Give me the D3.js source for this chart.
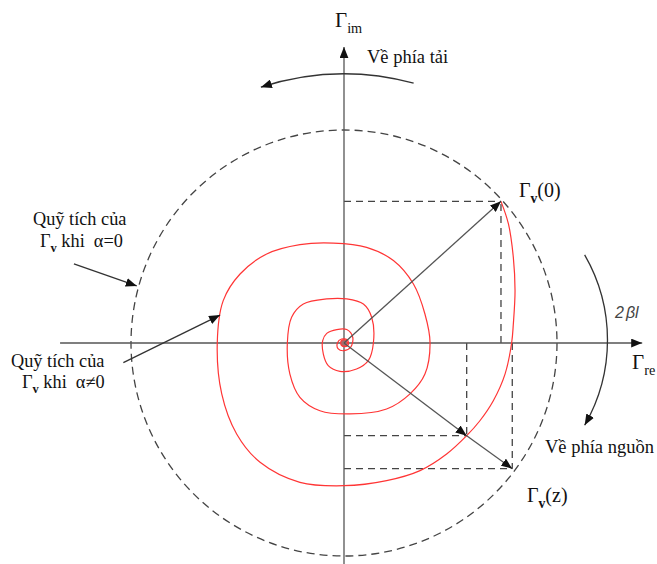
<!DOCTYPE html>
<html>
<head>
<meta charset="utf-8">
<script src="https://cdn.jsdelivr.net/npm/d3@7"></script>
<style>
  body { margin: 0; background: #fff; }
  text { font-family: "Liberation Serif", "Times New Roman", serif; fill: #111; white-space: pre; }
</style>
</head>
<body>
<svg id="chart" width="657" height="564"></svg>
<script>
// Locus of the reflection coefficient Γv on the complex plane (|Γ| = 1 is the dashed circle)

// Spiral locus for a lossy line (α ≠ 0), traced from the load towards the source
const spiralRe = [0.737,0.772,0.795,0.803,0.795,0.787,0.756,0.701,0.638,0.576,0.482,0.357,0.200,0,-0.207,-0.394,-0.504,-0.574,-0.595,-0.567,-0.488,-0.363,-0.207,-0.050,0.106,0.232,0.326,0.380,0.404,0.380,0.310,0.200,0.028,-0.113,-0.207,-0.254,-0.266,-0.246,-0.191,-0.081,0.013,0.091,0.130,0.138,0.114,0.059,-0.019,-0.074,-0.097,-0.100,-0.081,-0.034,0.013,0.041,0.031,0,-0.027,-0.031,-0.011,0.016,0.020,0.005,-0.011,-0.006,0.009];
const spiralIm = [0.665,0.559,0.402,0.246,0.089,0,-0.146,-0.271,-0.365,-0.435,-0.521,-0.599,-0.646,-0.670,-0.654,-0.560,-0.427,-0.239,0,0.199,0.324,0.418,0.462,0.469,0.449,0.387,0.277,0.136,0,-0.146,-0.239,-0.310,-0.333,-0.318,-0.255,-0.146,0,0.121,0.183,0.207,0.207,0.183,0.121,0,-0.083,-0.122,-0.133,-0.106,-0.052,0.011,0.045,0.063,0.063,0.027,-0.020,-0.036,-0.028,0,0.019,0.014,-0.008,-0.017,-0.008,0.008,0.003];

// Reflection coefficients [Re, Im]
const gammaLoad = [0.737, 0.665];         // Γv(0)
const gammaLossless = [0.790, -0.590];    // Γv(z), α = 0
const gammaLossy = [0.576, -0.435];       // Γv(z), α ≠ 0

// Axis extents in Γ units
const reExtent = [-1.333, 1.40];
const imExtent = [-1.06, 1.39];

const svg = d3.select("#chart");
const x = d3.scaleLinear().domain([-1, 1]).range([131, 557]);
const y = d3.scaleLinear().domain([-1, 1]).range([556, 130]);
const R = x(1) - x(0);
const cx = x(0), cy = y(0);

// arrowhead marker
const defs = svg.append("defs");
defs.append("marker")
  .attr("id", "arrow")
  .attr("viewBox", "0 0 10 8")
  .attr("refX", 10).attr("refY", 4)
  .attr("markerWidth", 11).attr("markerHeight", 9)
  .attr("markerUnits", "userSpaceOnUse")
  .attr("orient", "auto")
  .append("path").attr("d", "M0,0L10,4L0,8Z").attr("fill", "#111");

const gray = "#555";

// |Γ| = 1 circle
svg.append("circle")
  .attr("cx", cx).attr("cy", cy).attr("r", R)
  .attr("fill", "none").attr("stroke", "#444")
  .attr("stroke-width", 1.3).attr("stroke-dasharray", "8,5");

// projection guides
const guides = [
  [[0, gammaLoad[1]], gammaLoad],
  [[gammaLoad[0], 0], gammaLoad],
  [[0, gammaLossy[1]], gammaLossy],
  [[gammaLossy[0], 0], gammaLossy],
  [[0, gammaLossless[1]], gammaLossless],
  [[gammaLossless[0], 0], gammaLossless]
];
svg.append("g").selectAll("line").data(guides).join("line")
  .attr("x1", d => x(d[0][0])).attr("y1", d => y(d[0][1]))
  .attr("x2", d => x(d[1][0])).attr("y2", d => y(d[1][1]))
  .attr("stroke", "#444").attr("stroke-width", 1.3).attr("stroke-dasharray", "7,5");

// axes
svg.append("line")
  .attr("x1", x(reExtent[0])).attr("y1", cy)
  .attr("x2", x(reExtent[1])).attr("y2", cy)
  .attr("stroke", gray).attr("stroke-width", 1.3)
  .attr("marker-end", "url(#arrow)");
svg.append("line")
  .attr("x1", cx).attr("y1", y(imExtent[0]))
  .attr("x2", cx).attr("y2", y(imExtent[1]))
  .attr("stroke", gray).attr("stroke-width", 1.3)
  .attr("marker-end", "url(#arrow)");

// spiral locus
const spiralPts = spiralRe.map((re, i) => [re, spiralIm[i]]);
const line = d3.line().x(d => x(d[0])).y(d => y(d[1])).curve(d3.curveCatmullRom.alpha(0.5));
svg.append("path")
  .attr("d", line(spiralPts))
  .attr("fill", "none").attr("stroke", "#ff3535").attr("stroke-width", 1.2);
svg.append("circle")
  .attr("cx", cx).attr("cy", cy).attr("r", 3.3)
  .attr("fill", "#a86a6a").attr("stroke", "#ff3a3a").attr("stroke-width", 1.2);

// Γ vectors
const vecs = [
  [[0, 0], gammaLoad],
  [[0, 0], gammaLossy],
  [gammaLossy, gammaLossless]
];
svg.append("g").selectAll("line").data(vecs).join("line")
  .attr("x1", d => x(d[0][0])).attr("y1", d => y(d[0][1]))
  .attr("x2", d => x(d[1][0])).attr("y2", d => y(d[1][1]))
  .attr("stroke", gray).attr("stroke-width", 1.3)
  .attr("marker-end", "url(#arrow)");

// direction arcs
const deg = Math.PI / 180;
const pTop = d3.path();
pTop.arc(cx, cy, 1.263 * R, -75 * deg, -108 * deg, true);
svg.append("path").attr("d", pTop.toString())
  .attr("fill", "none").attr("stroke", "#333").attr("stroke-width", 1.3)
  .attr("marker-end", "url(#arrow)");
const pRight = d3.path();
pRight.arc(x(0.437), cy - 3, 0.80 * R, -30 * deg, 30 * deg, false);
svg.append("path").attr("d", pRight.toString())
  .attr("fill", "none").attr("stroke", "#333").attr("stroke-width", 1.3)
  .attr("marker-end", "url(#arrow)");

// callout arrows
const callouts = [
  [[-1.268, 0.371], [-0.973, 0.268]],
  [[-1.036, -0.092], [-0.582, 0.131]]
];
svg.append("g").selectAll("line").data(callouts).join("line")
  .attr("x1", d => x(d[0][0])).attr("y1", d => y(d[0][1]))
  .attr("x2", d => x(d[1][0])).attr("y2", d => y(d[1][1]))
  .attr("stroke", "#333").attr("stroke-width", 1.3)
  .attr("marker-end", "url(#arrow)");

// labels
function gammaLabel(px, py, sub, rest, size, subBold) {
  const t = svg.append("text").attr("x", px).attr("y", py).attr("font-size", size);
  t.append("tspan").text("Γ");
  t.append("tspan").attr("dy", size * 0.28).attr("font-size", size * 0.68)
    .attr("font-weight", subBold ? "bold" : "normal").text(sub);
  if (rest) t.append("tspan").attr("dy", -size * 0.28).text(rest);
  return t;
}
gammaLabel(335, 27, "im", null, 21, false);
gammaLabel(632, 369, "re", null, 21, false);
gammaLabel(519, 197, "v", "(0)", 20, true);
gammaLabel(527, 502, "v", "(z)", 20, true);

svg.append("text").attr("x", 367).attr("y", 63).attr("font-size", 18.5).text("Về phía tải");
svg.append("text").attr("x", 545).attr("y", 453).attr("font-size", 18.5).text("Về phía nguồn");

const beta = svg.append("text").attr("x", 615).attr("y", 318)
  .attr("font-size", 16).attr("font-style", "italic")
  .style("font-family", "'Liberation Sans', Arial, sans-serif").style("fill", "#444");
beta.append("tspan").text("2");
beta.append("tspan").attr("dx", 2).text("βl");

svg.append("text").attr("x", 33).attr("y", 225).attr("font-size", 18.3).text("Quỹ tích của");
gammaLabel(40, 247, "v", " khi  α=0", 18.3, true);
svg.append("text").attr("x", 11).attr("y", 367).attr("font-size", 18.3).text("Quỹ tích của");
gammaLabel(22, 388, "v", " khi  α≠0", 18.3, true);
</script>
</body>
</html>
